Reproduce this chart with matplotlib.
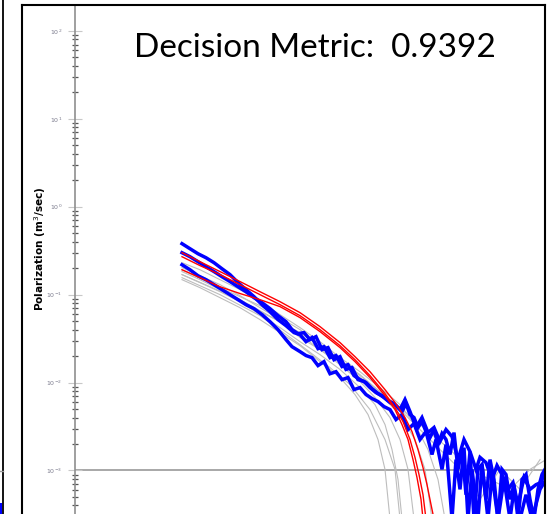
import numpy as np
import matplotlib
matplotlib.use("Agg")
import matplotlib.pyplot as plt
from matplotlib.lines import Line2D
from matplotlib.patches import Rectangle
from matplotlib.ticker import LogLocator, NullFormatter, LogFormatterMathtext

# ---------------- data ----------------
title_text = "Decision Metric:  0.9392"
ylabel_text = "Polarization (m$^3$/sec)"
threshold = 1e-3

red1_x = [107, 125, 145, 165, 185, 205, 225, 245, 265, 280, 295, 310, 320, 330, 337, 343, 348, 352, 356, 359]
red1_y = [0.300, 0.237, 0.183, 0.141, 0.108, 0.0832, 0.0624, 0.0433, 0.0285, 0.0197, 0.0133,
          0.00832, 0.00593, 0.00400, 0.00277, 0.00173, 0.00108, 0.00069, 0.00041, 0.00028]
red2_x = [107, 125, 145, 165, 185, 205, 225, 245, 265, 280, 295, 310, 320, 328, 335, 340, 344, 348, 351]
red2_y = [0.270, 0.214, 0.169, 0.130, 0.100, 0.0769, 0.0577, 0.0400, 0.0263, 0.0182, 0.0120,
          0.00750, 0.00520, 0.00360, 0.00225, 0.00141, 0.00090, 0.00053, 0.00028]
red3_x = [107, 125, 145, 165, 185, 205, 225, 245, 265, 280, 295, 310, 320, 327, 333, 338, 342, 346, 348]
red3_y = [0.192, 0.156, 0.123, 0.103, 0.0877, 0.0731, 0.0548, 0.0380, 0.0250, 0.0173, 0.0114,
          0.00711, 0.00493, 0.00333, 0.00225, 0.00133, 0.00083, 0.00047, 0.00028]

blue1_x = [107, 115, 123, 131, 139, 147, 155, 163, 171, 179, 187, 195, 203, 211, 219, 225, 231, 237,
           243, 249, 255, 261, 267, 273, 279, 285, 291, 297, 303, 309, 315, 321, 327, 331, 335, 339,
           343, 347, 351, 355, 359, 363, 367, 371, 375, 379, 383, 387, 391, 395, 399, 403, 407, 411,
           415, 419, 423, 427, 431, 435, 439, 443, 447, 451, 455, 459, 463, 467, 471]
blue1_y = [0.380, 0.333, 0.292, 0.263, 0.231, 0.197, 0.169, 0.137, 0.114, 0.0949, 0.0769, 0.0641,
           0.0520, 0.0444, 0.0370, 0.0351, 0.0292, 0.0325, 0.0243, 0.0256, 0.0192, 0.0203, 0.0152,
           0.0160, 0.0120, 0.0108, 0.0100, 0.00855, 0.00750, 0.00676, 0.00593, 0.00548, 0.00468,
           0.00577, 0.00433, 0.00400, 0.00308, 0.00360, 0.00277, 0.00237, 0.00292, 0.00197, 0.00263,
           0.00225, 0.00152, 0.00270, 0.00103, 0.00173, 0.00053, 0.00164, 0.00028, 0.00103, 0.00117,
           0.00047, 0.00133, 0.00079, 0.00028, 0.00103, 0.00090, 0.00047, 0.00069, 0.00028, 0.00079,
           0.00090, 0.00047, 0.00028, 0.00061, 0.00090, 0.00108]
blue2_x = [107, 115, 123, 131, 139, 147, 155, 163, 171, 179, 187, 195, 203, 211, 217, 223, 229, 235,
           241, 247, 253, 259, 265, 271, 277, 283, 289, 295, 301, 307, 313, 319, 325, 330, 335, 341,
           347, 353, 359, 365, 371, 377, 383, 389, 395, 401, 405, 411, 417, 422, 427, 433, 438, 443,
           449, 455, 461, 466, 471]
blue2_y = [0.300, 0.270, 0.237, 0.208, 0.183, 0.160, 0.141, 0.123, 0.108, 0.0924, 0.0811, 0.0693,
           0.0577, 0.0493, 0.0400, 0.0360, 0.0370, 0.0308, 0.0333, 0.0237, 0.0250, 0.0182, 0.0197,
           0.0141, 0.0148, 0.0108, 0.0103, 0.00877, 0.00769, 0.00711, 0.00624, 0.00577, 0.00493,
           0.00641, 0.00468, 0.00308, 0.00400, 0.00270, 0.00308, 0.00214, 0.00292, 0.00243, 0.00133,
           0.00225, 0.00164, 0.00103, 0.00141, 0.00123, 0.00079, 0.00114, 0.00090, 0.00061, 0.00073,
           0.00041, 0.00083, 0.00061, 0.00069, 0.00073, 0.00103]
blue3_x = [107, 115, 123, 131, 139, 147, 155, 163, 171, 179, 187, 195, 203, 211, 217, 225, 231, 237,
           243, 249, 255, 261, 267, 273, 279, 285, 291, 297, 303, 309, 315, 321, 327, 333, 339, 345,
           351, 357, 361, 367, 371, 377, 381, 385, 389, 393, 397, 403, 407, 413, 417, 423, 429, 435,
           439, 445, 451, 457, 465, 471]
blue3_y = [0.219, 0.192, 0.164, 0.148, 0.130, 0.114, 0.100, 0.0877, 0.0769, 0.0693, 0.0593, 0.0493,
           0.0400, 0.0308, 0.0256, 0.0225, 0.0203, 0.0192, 0.0156, 0.0173, 0.0126, 0.0133, 0.0108,
           0.0114, 0.00832, 0.00877, 0.00731, 0.00658, 0.00608, 0.00533, 0.00493, 0.00380, 0.00433,
           0.00292, 0.00342, 0.00225, 0.00277, 0.00152, 0.00225, 0.00103, 0.00197, 0.00028, 0.00133,
           0.00061, 0.00182, 0.00028, 0.00103, 0.00028, 0.00117, 0.00028, 0.00090, 0.00028, 0.00079,
           0.00028, 0.00061, 0.00028, 0.00053, 0.00028, 0.00061, 0.00079]

gray_x = [
    [107, 125, 145, 165, 185, 205, 225, 245, 265, 285, 300, 315, 325, 333, 339],
    [107, 125, 145, 165, 185, 205, 225, 245, 265, 285, 300, 310, 317, 323, 327],
    [107, 125, 145, 165, 185, 205, 225, 245, 265, 280, 293, 303, 310, 315],
    [107, 125, 145, 165, 185, 205, 225, 245, 265, 285, 305, 325, 340, 353, 363, 370],
    [107, 125, 145, 165, 185, 205, 225, 245, 265, 285, 305, 325, 340, 350, 357],
    [107, 145, 185, 225, 255, 275, 295, 310, 320, 325],
    [107, 145, 185, 225, 265, 305, 345, 375, 395, 415, 435, 455, 471],
    [107, 165, 225, 285, 325, 355, 385, 405, 425, 445, 465],
]
gray_y = [
    [0.203, 0.164, 0.130, 0.0974, 0.0711, 0.0520, 0.0351, 0.0237, 0.0160, 0.0103, 0.00676, 0.00400,
     0.00225, 0.00103, 0.00028],
    [0.169, 0.137, 0.108, 0.0832, 0.0593, 0.0422, 0.0292, 0.0208, 0.0141, 0.00877, 0.00562, 0.00333,
     0.00173, 0.00079, 0.00028],
    [0.148, 0.120, 0.0924, 0.0711, 0.0520, 0.0370, 0.0263, 0.0173, 0.0114, 0.00731, 0.00433, 0.00225,
     0.00103, 0.00028],
    [0.231, 0.192, 0.148, 0.114, 0.0832, 0.0593, 0.0422, 0.0292, 0.0192, 0.0133, 0.00877, 0.00562,
     0.00333, 0.00173, 0.00079, 0.00028],
    [0.183, 0.148, 0.114, 0.0877, 0.0641, 0.0493, 0.0325, 0.0237, 0.0173, 0.0114, 0.00731, 0.00433,
     0.00225, 0.00103, 0.00028],
    [0.156, 0.100, 0.0577, 0.0270, 0.0148, 0.0095, 0.00493, 0.00225, 0.00103, 0.00028],
    [0.192, 0.120, 0.0750, 0.0400, 0.0182, 0.00791, 0.00333, 0.00173, 0.00103, 0.00079, 0.00061,
     0.00103, 0.00133],
    [0.169, 0.0877, 0.0370, 0.0123, 0.00493, 0.00225, 0.00103, 0.00047, 0.00103, 0.00061, 0.00133],
]

# ---------------- figure ----------------
W, H = 547, 514
fig = plt.figure(figsize=(W / 100, H / 100), dpi=100)
fig.patch.set_facecolor("white")

ax = fig.add_axes([75 / W, 0, 469 / W, 509 / H])
ax.set_facecolor("none")
ax.set_yscale("log")
ax.set_xlim(0, 469)
ax.set_ylim(3.2e-4, 197)

for gx, gy in zip(gray_x, gray_y):
    ax.plot(gx, gy, color="#bdbdbd", lw=0.8, zorder=2)
for bx, by in ((blue1_x, blue1_y), (blue2_x, blue2_y), (blue3_x, blue3_y)):
    ax.plot(bx, by, color="#0000ff", lw=2.5, zorder=3, solid_joinstyle="miter")
for rx, ry in ((red1_x, red1_y), (red2_x, red2_y), (red3_x, red3_y)):
    ax.plot(rx, ry, color="#ff0000", lw=1.0, zorder=4)

ax.axhline(threshold, color="#9a9a9a", lw=1.2, zorder=1)

for s in ("top", "right", "bottom"):
    ax.spines[s].set_visible(False)
ax.spines["left"].set_color("#8f8f8f")
ax.spines["left"].set_linewidth(1.2)
ax.xaxis.set_visible(False)

ax.yaxis.set_major_locator(LogLocator(base=10, numticks=20))
ax.yaxis.set_major_formatter(LogFormatterMathtext())
ax.yaxis.set_minor_locator(LogLocator(base=10, subs=np.arange(2, 10), numticks=20))
ax.yaxis.set_minor_formatter(NullFormatter())
ax.tick_params(axis="y", which="major", direction="inout", length=10, width=0.8,
               color="#c8c8c8", labelsize=4.5, labelcolor="#7a7a8c", pad=4)
ax.tick_params(axis="y", which="minor", direction="inout", length=4.3, width=0.9,
               color="#555555")

fig.text(40 / W, 1 - 249 / H, ylabel_text, rotation=90, ha="center", va="center",
         fontsize=7.6, fontweight="bold", color="black")

fig.text(315 / W, 1 - 57 / H, title_text, ha="center", va="baseline",
         fontsize=24, family="Lato", color="black")

# panel frame and neighbour remnants
fig.add_artist(Line2D([22 / W, 22 / W], [0, 1 - 5 / H], transform=fig.transFigure,
                      color="black", lw=1.5))
fig.add_artist(Line2D([22 / W, 544.5 / W], [1 - 5 / H, 1 - 5 / H], transform=fig.transFigure,
                      color="black", lw=1.5))
fig.add_artist(Line2D([544.5 / W, 544.5 / W], [0, 1 - 5 / H], transform=fig.transFigure,
                      color="black", lw=1.5))
fig.add_artist(Line2D([3 / W, 3 / W], [0, 1], transform=fig.transFigure,
                      color="black", lw=1.3))
fig.add_artist(Line2D([0, 2.5 / W], [1 - 471 / H, 1 - 471 / H], transform=fig.transFigure,
                      color="#9a9a9a", lw=1.0))
fig.add_artist(Rectangle((0, 0), 2 / W, 11 / H, transform=fig.transFigure,
                         facecolor="#0000ff", edgecolor="none"))

fig.savefig("out.png", dpi=100)
